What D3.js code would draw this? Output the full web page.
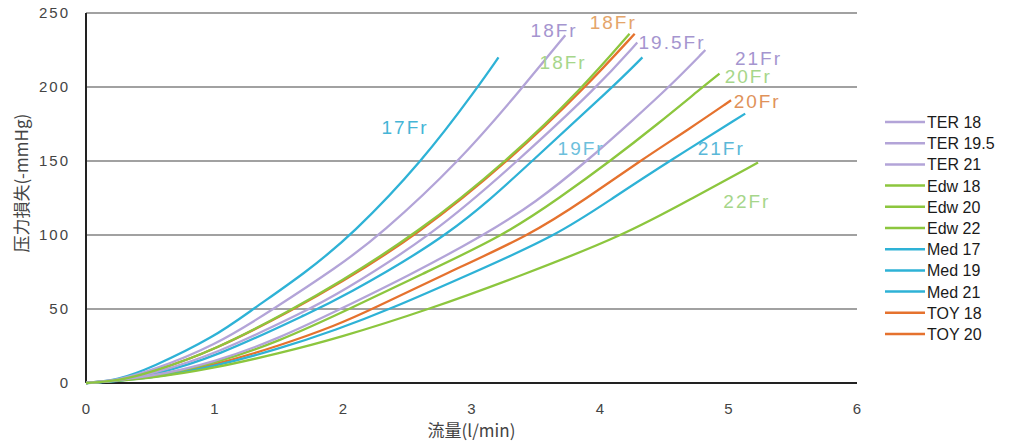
<!DOCTYPE html>
<html>
<head>
<meta charset="utf-8">
<script src="https://cdn.jsdelivr.net/npm/d3@7"></script>
<style>
  body { margin: 0; background: #fff; }
  svg { display: block; font-family: "Liberation Sans", Arial, sans-serif; }
</style>
</head>
<body>
<svg id="chart"></svg>
<script>
var width = 1011;
var height = 441;
var margin = { top: 13, left: 86, plotW: 771, plotH: 370 };

// series names (legend order)
var seriesNames = ["TER18", "TER19.5", "TER21", "Edw18", "Edw20", "Edw22", "Med17", "Med19", "Med21", "TOY18", "TOY20"];
var seriesColors = ["#b3a4d8", "#b3a4d8", "#b3a4d8", "#8cc63e", "#8cc63e", "#8cc63e", "#2eb2d6", "#2eb2d6", "#2eb2d6", "#e5722e", "#e5722e"];

// flow (l/min) and pressure loss (-mmHg)
var ter18X = [0, 0.25, 0.5, 1, 1.46, 1.95, 2.29, 2.91, 3.4, 3.73];
var ter18Y = [0, 2, 8, 25, 50, 78, 100, 150, 200, 235];
var ter195X = [0, 0.25, 0.5, 1, 1.74, 1.95, 2.7, 3.36, 3.98, 4.29];
var ter195Y = [0, 1.5, 6, 19, 50, 59.5, 100, 150, 200, 230];
var ter21X = [0, 0.5, 1, 1.5, 1.98, 2.5, 3.1, 3.5, 3.9, 4.26, 4.55, 4.82];
var ter21Y = [0, 4, 14, 30, 50, 72, 100, 122, 150, 178, 201, 225];
var edw18X = [0, 0.25, 0.5, 1, 1.61, 1.95, 2.56, 3.28, 3.87, 4.23];
var edw18Y = [0, 1.5, 7, 22, 50, 67, 100, 150, 200, 236];
var edw20X = [0, 0.5, 1, 1.5, 2.05, 2.6, 3.26, 3.7, 4.08, 4.45, 4.8, 4.93];
var edw20Y = [0, 4, 13, 28, 50, 73, 100, 126, 150, 175, 200, 209];
var edw22X = [0, 0.5, 1, 1.5, 1.95, 2.68, 3.4, 4.19, 4.7, 5.23];
var edw22Y = [0, 3, 10, 20, 30, 50, 73, 100, 124, 149];
var med17X = [0, 0.25, 0.5, 1, 1.3, 1.7, 2.07, 2.62, 3.05, 3.21];
var med17Y = [0, 2, 10, 31, 50, 74, 100, 150, 200, 220];
var med19X = [0, 0.25, 0.5, 1, 1.8, 1.95, 2.85, 3.47, 4.1, 4.33];
var med19Y = [0, 1, 5, 17, 50, 56, 100, 150, 200, 220];
var med21X = [0, 0.5, 1, 1.5, 1.95, 2.37, 3.0, 3.67, 4.1, 4.54, 5.13];
var med21Y = [0, 3, 11, 23, 36, 50, 74, 100, 125, 150, 182];
var toy18X = [0, 0.25, 0.5, 1, 1.62, 1.95, 2.58, 3.29, 3.89, 4.27];
var toy18Y = [0, 1.5, 7, 22, 50, 66, 100, 150, 200, 236];
var toy20X = [0, 0.5, 1, 1.5, 1.95, 2.23, 2.8, 3.46, 3.9, 4.31, 4.7, 5.02];
var toy20Y = [0, 3.5, 12, 25, 39, 50, 74, 100, 125, 150, 172, 191];

var seriesX = [ter18X, ter195X, ter21X, edw18X, edw20X, edw22X, med17X, med19X, med21X, toy18X, toy20X];
var seriesY = [ter18Y, ter195Y, ter21Y, edw18Y, edw20Y, edw22Y, med17Y, med19Y, med21Y, toy18Y, toy20Y];

// size labels on the curves
var labelText = ["17Fr", "18Fr", "18Fr", "18Fr", "19.5Fr", "21Fr", "20Fr", "20Fr", "19Fr", "21Fr", "22Fr"];
var labelX = [2.30, 3.46, 3.92, 3.53, 4.30, 5.05, 4.97, 5.04, 3.67, 4.76, 4.96];
var labelY = [168, 234, 239, 212, 226, 215, 203, 186, 154, 154, 118];
var labelColors = ["#45b5d6", "#a595cf", "#e4a56a", "#a6d68a", "#a595cf", "#a595cf", "#a6d68a", "#e0925a", "#6cc0dc", "#5ab8d8", "#a6d68a"];

var xTicks = [0, 1, 2, 3, 4, 5, 6];
var yTicks = [0, 50, 100, 150, 200, 250];

var svg = d3.select("#chart").attr("width", width).attr("height", height);

var x = d3.scaleLinear().domain([0, 6]).range([margin.left, margin.left + margin.plotW]);
var y = d3.scaleLinear().domain([0, 250]).range([margin.top + margin.plotH, margin.top]);

// grid lines
svg.append("g")
    .selectAll("line")
    .data(yTicks.filter(function (d) { return d > 0; }))
    .enter().append("line")
    .attr("x1", x(0))
    .attr("x2", x(6))
    .attr("y1", function (d) { return y(d); })
    .attr("y2", function (d) { return y(d); })
    .attr("stroke", "#444")
    .attr("stroke-width", 1.2);

// axes
svg.append("line")
    .attr("x1", x(0)).attr("x2", x(6))
    .attr("y1", y(0)).attr("y2", y(0))
    .attr("stroke", "#222").attr("stroke-width", 2);
svg.append("line")
    .attr("x1", x(0)).attr("x2", x(0))
    .attr("y1", y(0)).attr("y2", y(250))
    .attr("stroke", "#222").attr("stroke-width", 2);

svg.append("g")
    .selectAll("text")
    .data(yTicks)
    .enter().append("text")
    .attr("x", x(0) - 16)
    .attr("y", function (d) { return y(d) + 5; })
    .attr("text-anchor", "end")
    .attr("font-size", "15px")
    .attr("letter-spacing", "2px")
    .attr("fill", "#444")
    .text(function (d) { return d; });

svg.append("g")
    .selectAll("text")
    .data(xTicks)
    .enter().append("text")
    .attr("x", function (d) { return x(d); })
    .attr("y", y(0) + 31)
    .attr("text-anchor", "middle")
    .attr("font-size", "15px")
    .attr("fill", "#444")
    .text(function (d) { return d; });

svg.append("text")
    .attr("x", x(3))
    .attr("y", 437)
    .attr("text-anchor", "middle")
    .attr("font-size", "17px")
    .attr("font-family", "Noto Sans CJK JP")
    .attr("fill", "#444")
    .text("流量(l/min)");

svg.append("text")
    .attr("transform", "translate(28," + y(135) + ") rotate(-90)")
    .attr("text-anchor", "middle")
    .attr("font-size", "17px")
    .attr("font-family", "Noto Sans CJK JP")
    .attr("fill", "#444")
    .text("压力損失(-mmHg)");

// curves
var line = d3.line()
    .x(function (d) { return x(d[0]); })
    .y(function (d) { return y(d[1]); })
    .curve(d3.curveBasis);

var drawOrder = [10, 9, 8, 7, 6, 5, 4, 2, 1, 0, 3];
drawOrder.forEach(function (i) {
    var pts = d3.zip(seriesX[i], seriesY[i]);
    svg.append("path")
        .datum(pts)
        .attr("d", line)
        .attr("fill", "none")
        .attr("stroke", seriesColors[i])
        .attr("stroke-width", 2.3);
});

// curve labels
svg.append("g")
    .selectAll("text")
    .data(labelText)
    .enter().append("text")
    .attr("x", function (d, i) { return x(labelX[i]); })
    .attr("y", function (d, i) { return y(labelY[i]); })
    .attr("font-size", "19px")
    .attr("letter-spacing", "2px")
    .attr("fill", function (d, i) { return labelColors[i]; })
    .text(function (d) { return d; });

// legend
var legend = svg.append("g").attr("transform", "translate(885,122)");
var item = legend.selectAll("g")
    .data(seriesNames)
    .enter().append("g")
    .attr("transform", function (d, i) { return "translate(0," + (i * 21.2) + ")"; });
item.append("line")
    .attr("x1", 0).attr("x2", 40)
    .attr("stroke", function (d, i) { return seriesColors[i]; })
    .attr("stroke-width", 2.5);
item.append("text")
    .attr("x", 42)
    .attr("y", 6)
    .attr("font-size", "16px")
    .attr("fill", "#1a1a1a")
    .text(function (d) { return d.replace(/(\D+)(\d)/, "$1 $2"); });
</script>
</body>
</html>
